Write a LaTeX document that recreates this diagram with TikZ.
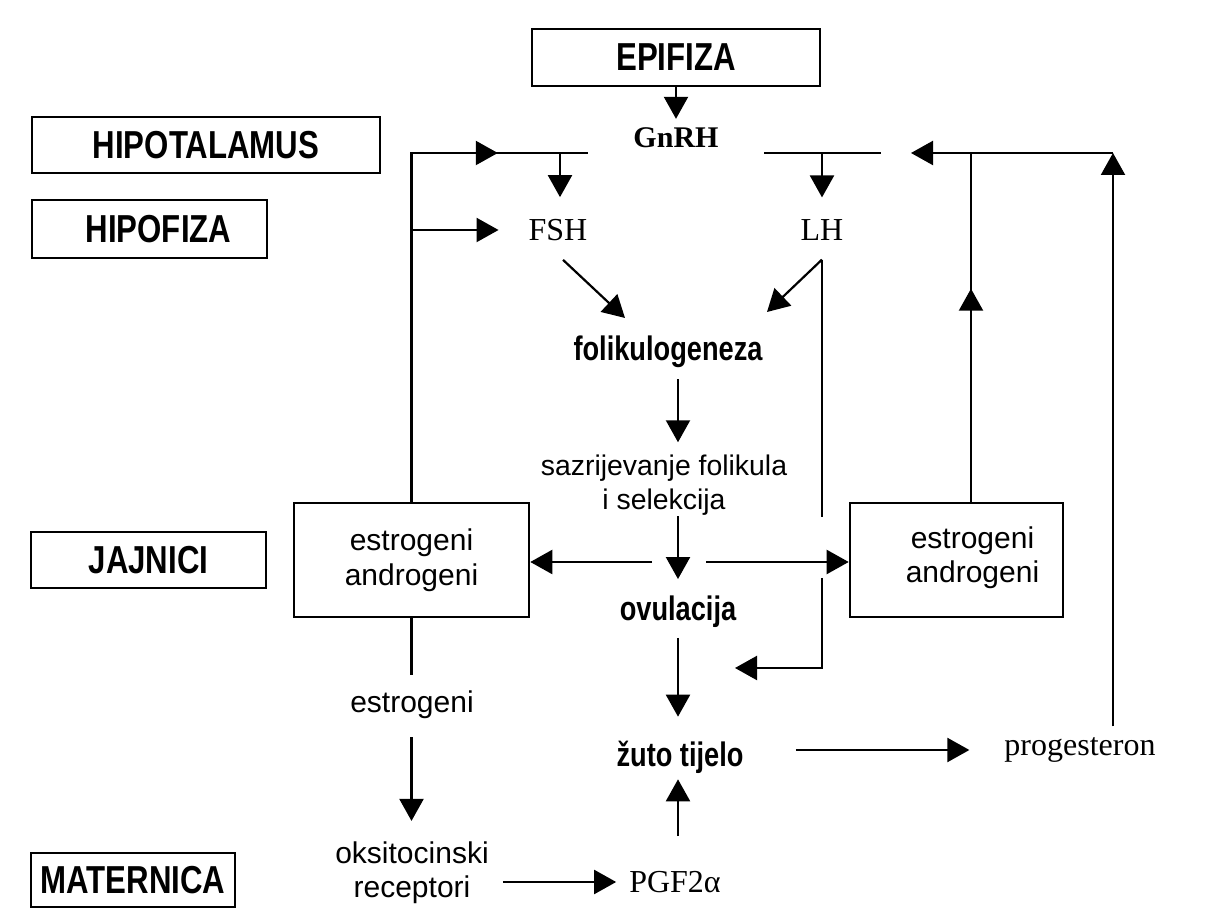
\documentclass[tikz,border=0pt]{standalone}
\usepackage{fontspec}
\setmainfont{Liberation Serif}
\setsansfont{Liberation Sans}
\newfontfamily\condfont[FakeStretch=0.8]{Liberation Sans}
\usetikzlibrary{arrows.meta, decorations.markings}

\begin{document}
\begin{tikzpicture}[%
        x = 0.5pt,
        y = -0.5pt,
        line width = 1.1pt,
        > = {Triangle[length = 11pt, width = 12pt]},
        organ/.style = {%
            draw,
            line width = 1.4pt,
            inner sep = 0pt,
            font = \condfont\bfseries\fontsize{19.5}{22}\selectfont
        },
        gland/.style = {%
            draw,
            line width = 1.3pt,
            minimum height = 57pt,
            align = center,
            font = \sffamily\fontsize{15}{17.5}\selectfont
        },
        stage/.style = {%
            inner sep = 0pt,
            font = \condfont\bfseries\fontsize{17}{20}\selectfont
        },
        plain/.style = {%
            inner sep = 0pt,
            align = center,
            font = \sffamily\fontsize{15}{17}\selectfont
        },
        hormone/.style = {%
            inner sep = 0pt,
            font = \fontsize{16}{19}\selectfont
        },
        midarrow/.style = {%
            postaction = {decorate},
            decoration = {%
                markings,
                mark = at position #1 with \arrow{Triangle[length = 11pt, width = 12pt]}
            }
        }
    ]

        \useasboundingbox (0, 0) rectangle (1206, 908);

        % Organ labels on the left and the top.
        \node[organ, minimum width = 144pt, minimum height = 28.5pt] (epifiza) at (676, 57.5) {EPIFIZA};
        \node[organ, minimum width = 174pt, minimum height = 28pt] (hipotalamus) at (206, 145) {HIPOTALAMUS\hspace{8pt}};
        \node[organ, minimum width = 117.5pt, minimum height = 29pt] (hipofiza) at (149.5, 229) {\hspace{9pt}HIPOFIZA};
        \node[organ, minimum width = 117.5pt, minimum height = 28pt] (jajnici) at (148.5, 560) {JAJNICI};
        \node[organ, minimum width = 102pt, minimum height = 27pt] (maternica) at (133, 880) {MATERNICA};

        % Hormones and stages.
        \node[hormone, font = \bfseries\fontsize{15}{18}\selectfont] (gnrh) at (676, 138) {GnRH};
        \node[hormone] (fsh) at (558, 230) {FSH};
        \node[hormone] (lh) at (822, 230) {LH};
        \node[stage] (folik) at (668, 352) {folikulogeneza};
        \node[plain, font = \sffamily\fontsize{14.2}{17}\selectfont] (sazr) at (664, 485) {sazrijevanje folikula\\i selekcija};
        \node[stage] (ovul) at (678, 612) {ovulacija};
        \node[stage] (zuto) at (680, 757) {žuto tijelo};
        \node[hormone] (prog) at (1080, 750) {progesteron};
        \node[hormone] (pgf) at (675, 882) {PGF2α};
        \node[plain] (estr) at (412, 705) {estrogeni};
        \node[plain] (oksito) at (412, 873) {oksitocinski\\receptori};

        % Ovarian hormone boxes.
        \node[gland, minimum width = 117.5pt] (lgland) at (411.5, 560) {estrogeni\\androgeni};
        \node[gland, minimum width = 106.5pt,
              label = {[plain, xshift = 8pt, yshift = 1pt]center:estrogeni\\androgeni}] (rgland) at (956.5, 560) {};

        % Junctions on the GnRH bar.
        \coordinate (barL) at (588, 153);
        \coordinate (fshjoin) at (560, 153);
        \coordinate (barR1) at (764, 153);
        \coordinate (barR2) at (881, 153);
        \coordinate (lhjoin) at (822, 153);
        \coordinate (barTip) at (911, 153);
        \coordinate (rjoin) at (971, 153);
        \coordinate (progTop) at (1113, 153);

        % Epifiza to GnRH and the bar below it.
        \draw[->, shorten >= 4pt] (epifiza) -- (gnrh);
        \draw[midarrow = 217.5pt] (lgland.north) |- (barL);
        \draw[->] (lgland.north |- fsh) -- ([xshift = -14.5pt] fsh.west);
        \draw[->, shorten >= 10.5pt] (fshjoin) -- (fsh.north -| fshjoin);
        \draw (barR1) -- (barR2);
        \draw[->, shorten >= 10.5pt] (lhjoin) -- (lh);

        % Feedback from the right.
        \draw[->, shorten < = 5pt] (prog.north -| progTop) -- (progTop);
        \draw[->] (progTop) -- (barTip);
        \draw[midarrow = 106.5pt] (rgland.north -| rjoin) -- (rjoin);

        % FSH and LH onto folikulogeneza.
        \coordinate (folikL) at (625, 318);
        \coordinate (folikR) at (767, 312);
        \draw[->] ([xshift = 2.5pt, yshift = -9pt] fsh.south) -- (folikL);
        \draw[->] ([yshift = -9pt] lh.south) -- (folikR);

        % LH line down to zuto tijelo.
        \coordinate (lhgapT) at (822, 517);
        \coordinate (lhgapB) at (822, 578);
        \coordinate (zutoIn) at (735, 668);
        \draw[shorten < = 9pt] (lh.south) -- (lhgapT);
        \draw[->] (lhgapB) |- (zutoIn);

        % Main column.
        \draw[->, shorten < = 5pt, shorten >= 5.7pt] (folik.south -| ovul) -- (sazr.north -| ovul);
        \draw[->, shorten >= 8pt] (sazr.south -| ovul) -- (ovul);
        \coordinate (splitL) at (652, 562);
        \coordinate (splitR) at (706, 562);
        \draw[->] (splitL) -- (lgland.east |- splitL);
        \draw[->] (splitR) -- (rgland.west |- splitR);
        \draw[->, shorten < = 4.5pt, shorten >= 11.5pt] (ovul) -- (zuto.north -| ovul);
        \draw[->, shorten < = 25.7pt, shorten >= 17pt] (zuto.east |- prog) -- (prog);
        \draw[->, shorten < = 17pt, shorten >= 2.5pt] (pgf.north -| ovul) -- (zuto.south -| ovul);

        % Estrogeni towards the uterus.
        \draw[shorten >= 7.5pt] (lgland.south) -- (estr.north -| lgland);
        \draw[->, shorten < = 8.5pt, shorten >= 10pt] (estr.south -| lgland) -- (oksito.north -| lgland);
        \draw[->, shorten < = 6.6pt, shorten >= 6pt] (oksito.east |- pgf.west) -- (pgf.west);
    \end{tikzpicture}
\end{document}
